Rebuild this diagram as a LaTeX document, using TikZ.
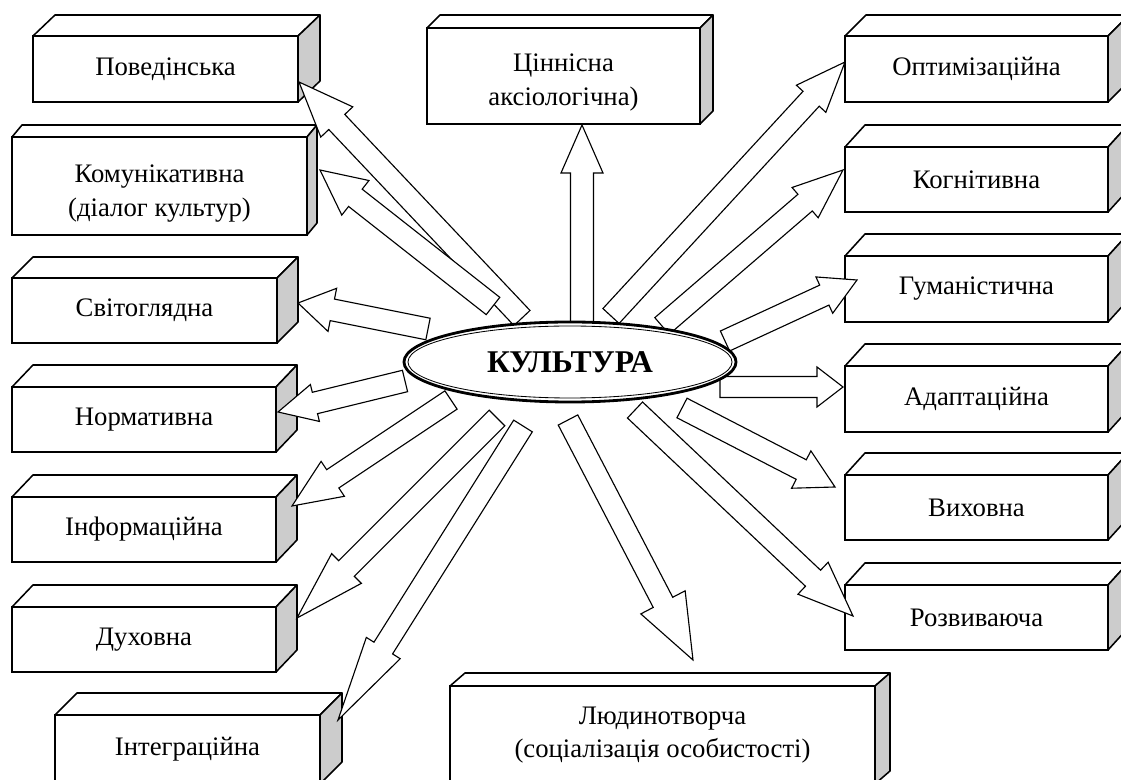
\documentclass[tikz,border=0pt]{standalone}
\usepackage{fontspec}
\setmainfont{Liberation Serif}
\usetikzlibrary{calc,shapes.geometric}

\pgfdeclarelayer{front}
\pgfsetlayers{main,front}

% top and side face of a box node: #1 name, (#2,#3) depth
\newcommand{\cuboid}[3]{%
  \draw[face, fill=white] (#1.north west) -- ++(#2,#3) -- ($(#1.north east)+(#2,#3)$) -- (#1.north east) -- cycle;
  \draw[face, fill=gray!40] (#1.north east) -- ++(#2,#3) -- ($(#1.south east)+(#2,#3)$) -- (#1.south east) -- cycle;}

% block arrow: [#1 half shaft] from #2 to #3, head length #4, half head #5
\newcommand{\blockarrow}[5][11]{%
  \draw[barr] ($(#2)!#1*0.025cm!90:(#3)$)
    -- ($(#3)!#4*0.025cm!(#2)!#1*0.025cm!90:(#3)$)
    -- ($(#3)!#4*0.025cm!(#2)!#5*0.025cm!90:(#3)$)
    -- (#3)
    -- ($(#3)!#4*0.025cm!(#2)!#5*0.025cm!-90:(#3)$)
    -- ($(#3)!#4*0.025cm!(#2)!#1*0.025cm!-90:(#3)$)
    -- ($(#2)!#1*0.025cm!-90:(#3)$) -- cycle;}

\begin{document}
\begin{tikzpicture}[x=0.025cm, y=-0.025cm,
    func/.style={draw, fill=white, line width=1.1pt, inner sep=0pt, outer sep=0pt,
      font=\fontsize{19}{24}\selectfont},
    wh/.style 2 args={minimum width=#1*0.025cm, minimum height=#2*0.025cm},
    face/.style={line width=1.1pt, line join=round},
    barr/.style={draw, fill=white, line width=0.8pt},
    kult/.style={ellipse, draw, fill=white, line width=2pt, minimum width=8.3cm,
      minimum height=2cm, inner sep=0pt, font=\bfseries\fontsize{22.5}{26}\selectfont}]
  \useasboundingbox (0,0) rectangle (1121,780);

  % ліворуч
  \node[func, wh={265}{66}] (pov) at (165.5,69) {Поведінська}; \cuboid{pov}{22}{-21}
  \node[func, wh={295}{98}, align=center] (kom) at (159.5,186) {\rule{0pt}{23pt}Комунікативна\\(діалог культур)}; \cuboid{kom}{10}{-12}
  \node[func, wh={265}{65}] (svit) at (144.5,310.5) {Світоглядна}; \cuboid{svit}{21}{-21}
  \node[func, wh={264}{65}] (norm) at (144,419.5) {Нормативна}; \cuboid{norm}{21}{-22}
  \node[func, wh={264}{65}] (inf) at (144,529.5) {Інформаційна}; \cuboid{inf}{21}{-22}
  \node[func, wh={264}{65}] (duh) at (144,639.5) {Духовна}; \cuboid{duh}{21}{-22}
  \node[func, wh={265}{69}] (int) at (187.5,749.5) {Інтеграційна}; \cuboid{int}{22}{-22}
  % вгорі й унизу
  \node[func, wh={273}{96}, align=center] (cin) at (563.5,76) {\rule{0pt}{21.5pt}Ціннісна\\аксіологічна)}; \cuboid{cin}{13}{-13}
  \node[func, wh={425}{98}, align=center] (lud) at (662.5,735) {Людинотворча\\(соціалізація особистості)}; \cuboid{lud}{15}{-13}
  % праворуч
  \node[func, wh={263}{66}] (opt) at (976.5,69) {Оптимізаційна}; \cuboid{opt}{21}{-21}
  \node[func, wh={263}{65}] (kog) at (976.5,179.5) {Когнітивна}; \cuboid{kog}{20}{-22}
  \node[func, wh={263}{66}] (gum) at (976.5,289) {Гуманістична}; \cuboid{gum}{20}{-22}
  \node[func, wh={263}{66}] (ada) at (976.5,399) {Адаптаційна}; \cuboid{ada}{20}{-22}
  \node[func, wh={263}{65}] (vyh) at (976.5,507.5) {Виховна}; \cuboid{vyh}{20}{-22}
  \node[func, wh={263}{65}] (roz) at (976.5,617.5) {Розвиваюча}; \cuboid{roz}{20}{-22}

  % центр
  \begin{pgfonlayer}{front}
    \node[kult] (k) at (570,362) {КУЛЬТУРА};
    \draw[line width=0.6pt] (k.center) ellipse [x radius=162, y radius=36];
  \end{pgfonlayer}

  % початки стрілок
  \coordinate (pov-out) at ($(k.center)+(-48,-44)$);
  \coordinate (kom-out) at ($(k.center)+(-77,-56)$);
  \coordinate (svit-out) at ($(k.center)+(-142,-33)$);
  \coordinate (norm-out) at ($(k.center)+(-165,19)$);
  \coordinate (inf-out) at ($(k.center)+(-119,38)$);
  \coordinate (duh-out) at ($(k.center)+(-73,56)$);
  \coordinate (int-out) at ($(k.center)+(-47,64)$);
  \coordinate (lud-out) at ($(k.center)+(-2,58)$);
  \coordinate (roz-out) at ($(k.center)+(65,48)$);
  \coordinate (vyh-out) at ($(k.center)+(112,46)$);
  \coordinate (ada-out) at ($(k.center)+(150,25)$);
  \coordinate (gum-out) at ($(k.center)+(155,-21)$);
  \coordinate (kog-out) at ($(k.center)+(92,-36)$);
  \coordinate (opt-out) at ($(k.center)+(41,-46)$);
  \coordinate (cin-out) at ($(k.center)+(12,-37)$);
  % вістря
  \coordinate (pov-in) at ($(pov.east)+(1,13)$);
  \coordinate (kom-in) at ($(kom.east)+(13,-16)$);
  \coordinate (svit-in) at ($(svit.east)+(21,-7.5)$);
  \coordinate (norm-in) at ($(norm.east)+(2,-7.5)$);
  \coordinate (inf-in) at ($(inf.east)+(16,-23.5)$);
  \coordinate (duh-in) at ($(duh.east)+(21,-21.5)$);
  \coordinate (int-in) at ($(int.north east)+(18,5)$);
  \coordinate (lud-in) at ($(lud.north)+(30.5,-26)$);
  \coordinate (roz-in) at ($(roz.west)+(8,-1.5)$);
  \coordinate (vyh-in) at ($(vyh.west)+(-10,-20.5)$);
  \coordinate (ada-in) at ($(ada.west)+(-2,-12)$);
  \coordinate (gum-in) at ($(gum.west)+(12,-9)$);
  \coordinate (kog-in) at ($(kog.west)+(-2,-9.5)$);
  \coordinate (opt-in) at ($(opt.west)+(0,-7)$);
  \coordinate (cin-in) at ($(cin.south)+(18.5,1)$);

  % стрілки
  \blockarrow{pov-out}{pov-in}{55}{22}
  \blockarrow{kom-out}{kom-in}{45}{22}
  \blockarrow{svit-out}{svit-in}{35}{22}
  \blockarrow{norm-out}{norm-in}{38}{19}
  \blockarrow{inf-out}{inf-in}{49}{21}
  \blockarrow{duh-out}{duh-in}{70}{21}
  \blockarrow{int-out}{int-in}{85}{20}
  \blockarrow{lud-out}{lud-in}{65}{25}
  \blockarrow{roz-out}{roz-in}{55}{22}
  \blockarrow{vyh-out}{vyh-in}{38}{21}
  \blockarrow[10.5]{ada-out}{ada-in}{26}{20}
  \blockarrow{gum-out}{gum-in}{36}{20}
  \blockarrow{kog-out}{kog-in}{50}{20}
  \blockarrow{opt-out}{opt-in}{50}{20}
  \blockarrow[11.5]{cin-out}{cin-in}{48}{21}
\end{tikzpicture}
\end{document}
